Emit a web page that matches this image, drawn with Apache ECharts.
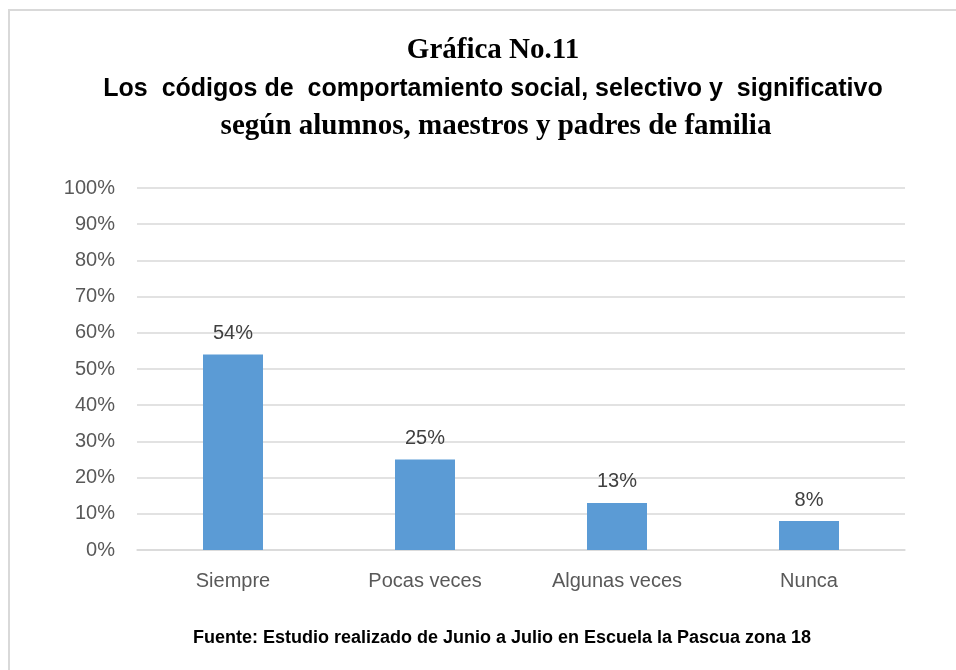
<!DOCTYPE html>
<html lang="es">
<head>
  <meta charset="UTF-8">
  <title>Gráfica No.11</title>
  <script src="https://cdn.jsdelivr.net/npm/echarts@6/dist/echarts.min.js"></script>
  <style>
    html, body { margin: 0; padding: 0; background: #fff; }
  </style>
</head>
<body>
  <div id="chart" style="width:956px;height:670px"></div>

  <script>
    // datos
    var categorias = ['Siempre', 'Pocas veces', 'Algunas veces', 'Nunca']
    var porcentajes = [54, 25, 13, 8]
    var ticksY = [0, 10, 20, 30, 40, 50, 60, 70, 80, 90, 100]

    var sans = '"Liberation Sans", Arial, sans-serif'
    var serif = '"Liberation Serif", "Times New Roman", serif'

    var mCharts = echarts.init(document.getElementById('chart'))

    var option = {
      animation: false,
      backgroundColor: '#fff',
      title: [
        {
          text: 'Gráfica No.11',
          left: 488, top: 31, textAlign: 'center',
          textStyle: { fontFamily: serif, fontWeight: 'bold', fontSize: 29, color: '#000' }
        },
        {
          text: 'Los  códigos de  comportamiento social, selectivo y  significativo',
          left: 488, top: 72, textAlign: 'center',
          textStyle: { fontFamily: sans, fontWeight: 'bold', fontSize: 25, color: '#000' }
        },
        {
          text: 'según alumnos, maestros y padres de familia',
          left: 491, top: 107, textAlign: 'center',
          textStyle: { fontFamily: serif, fontWeight: 'bold', fontSize: 29, color: '#000' }
        },
        {
          text: 'Fuente: Estudio realizado de Junio a Julio en Escuela la Pascua zona 18',
          left: 497, top: 624, textAlign: 'center',
          textStyle: { fontFamily: sans, fontWeight: 'bold', fontSize: 18, color: '#000' }
        }
      ],
      // marco gris del recuadro
      graphic: [
        {
          type: 'rect',
          shape: { x: 9, y: 10, width: 1000, height: 700 },
          style: { fill: 'none', stroke: '#d9d9d9', lineWidth: 2 },
          silent: true
        }
      ],
      grid: { left: 137, right: 51, top: 188, bottom: 120 },
      xAxis: {
        type: 'category',
        data: categorias,
        axisLine: { lineStyle: { color: '#d9d9d9', width: 1.5 } },
        axisTick: { show: false },
        axisLabel: { fontFamily: sans, fontSize: 20, color: '#595959', margin: 21 }
      },
      yAxis: {
        type: 'value',
        min: ticksY[0],
        max: ticksY[ticksY.length - 1],
        interval: 10,
        axisLine: { show: false },
        axisTick: { show: false },
        splitLine: { lineStyle: { color: '#d9d9d9', width: 1.5 } },
        axisLabel: {
          fontFamily: sans, fontSize: 20, color: '#595959', margin: 22,
          formatter: function (v) { return v + '%' }
        }
      },
      series: [
        {
          type: 'bar',
          data: porcentajes,
          barWidth: 60,
          itemStyle: { color: '#5b9bd5' },
          label: {
            show: true,
            position: 'top',
            distance: 11,
            fontFamily: sans,
            fontSize: 20,
            color: '#404040',
            formatter: '{c}%'
          }
        }
      ]
    }
    mCharts.setOption(option)
  </script>
</body>
</html>
